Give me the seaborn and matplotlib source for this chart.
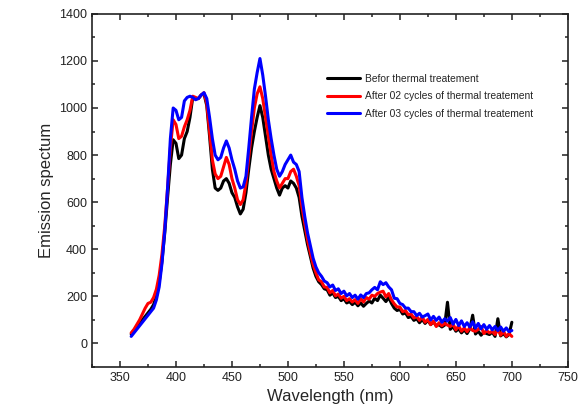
import numpy as np
import pandas as pd
import seaborn as sns
import matplotlib.pyplot as plt
from matplotlib.ticker import MultipleLocator

# Wavelength grid (nm), one value every 2.5 nm from 360 to 700
wavelength = np.arange(360, 700.1, 2.5)

# Emission, rows of 8 values = 20 nm each
before = [
    40, 55, 70, 85, 100, 115, 130, 145,
    165, 200, 260, 350, 470, 620, 760, 865,
    850, 785, 800, 870, 900, 960, 1045, 1040,
    1040, 1055, 1060, 1010, 880, 740, 660, 650,
    660, 690, 700, 680, 640, 620, 580, 550,
    570, 640, 740, 830, 900, 960, 1010, 960,
    880, 800, 740, 700, 660, 630, 660, 670,
    660, 690, 680, 660, 620, 540, 480, 420,
    370, 320, 285, 262, 250, 232, 228, 205,
    215, 195, 200, 182, 190, 172, 178, 165,
    175, 160, 172, 158, 170, 180, 172, 192,
    182, 205, 192, 178, 195, 170, 150, 140,
    145, 125, 130, 110, 115, 98, 105, 88,
    102, 85, 98, 80, 92, 75, 80, 70,
    78, 175, 60, 72, 52, 62, 45, 58,
    42, 62, 120, 40, 52, 35, 48, 42,
    38, 48, 30, 105, 32, 42, 28, 38,
    90,
]

after_02 = [
    45, 60, 80, 100, 125, 150, 170, 175,
    195, 230, 290, 380, 500, 660, 830, 950,
    930, 870, 880, 920, 950, 990, 1050, 1045,
    1040, 1055, 1065, 1020, 900, 780, 720, 700,
    710, 750, 790, 760, 700, 660, 610, 590,
    610, 680, 790, 900, 1000, 1060, 1090, 1040,
    960, 880, 800, 730, 690, 660, 680, 700,
    700, 730, 740, 710, 670, 580, 510, 440,
    385, 335, 300, 270, 262, 240, 238, 215,
    225, 202, 210, 192, 200, 182, 190, 176,
    186, 170, 190, 176, 195, 188, 205, 200,
    212, 218, 222, 198, 212, 185, 168, 155,
    155, 135, 140, 122, 125, 108, 115, 98,
    112, 90, 102, 80, 95, 72, 88, 75,
    85, 78, 72, 82, 58, 75, 52, 66,
    50, 68, 55, 52, 60, 72, 42, 55,
    45, 52, 38, 60, 35, 52, 30, 42,
    30,
]

after_03 = [
    30, 45, 60, 75, 90, 105, 120, 135,
    150, 185, 240, 340, 480, 660, 870, 1000,
    990, 950, 960, 1030, 1045, 1050, 1045, 1035,
    1040, 1055, 1065, 1040, 960, 870, 800, 780,
    790, 830, 860, 830, 780, 740, 690, 660,
    665, 710, 830, 960, 1080, 1150, 1210, 1140,
    1050, 950, 870, 800, 740, 710, 730, 760,
    780, 800, 770, 760, 730, 620, 540, 470,
    415, 362, 325, 300, 285, 265, 258, 240,
    248, 225, 232, 212, 222, 202, 212, 195,
    205, 188, 206, 195, 212, 215, 228, 238,
    228, 262, 250, 258, 240, 228, 192, 190,
    170, 165, 150, 150, 135, 135, 118, 128,
    112, 118, 125, 100, 115, 98, 112, 90,
    105, 95, 110, 82, 102, 76, 96, 72,
    88, 70, 92, 65, 85, 62, 80, 60,
    76, 58, 72, 55, 70, 52, 66, 50,
    55,
]

labels = ['Befor thermal treatement',
          'After 02 cycles of thermal treatement',
          'After 03 cycles of thermal treatement']
colors = ['#000000', '#ff0000', '#0000ff']

sns.set_style('ticks')
plt.rcParams['font.family'] = ['Liberation Sans', 'DejaVu Sans']

fig = plt.figure(figsize=(5.86, 4.18), dpi=100)
ax = fig.add_axes([0.157, 0.122, 0.812, 0.845])

for series, label, color in zip([before, after_02, after_03], labels, colors):
    sns.lineplot(x=wavelength, y=series, color=color, lw=2.2, label=label, ax=ax)

ax.set_xlim(325, 750)
ax.set_ylim(-100, 1400)
ax.xaxis.set_major_locator(MultipleLocator(50))
ax.xaxis.set_minor_locator(MultipleLocator(25))
ax.yaxis.set_major_locator(MultipleLocator(200))
ax.yaxis.set_minor_locator(MultipleLocator(100))
ax.tick_params(which='both', direction='in', top=True, right=True,
               width=1.1, colors='#222222', labelsize=9)
ax.tick_params(which='major', length=4.5)
ax.tick_params(which='minor', length=2.5)
for side in ax.spines.values():
    side.set_linewidth(1.2)
    side.set_color('#222222')

ax.set_xlabel('Wavelength (nm)', fontsize=12)
ax.set_ylabel('Emission spectum', fontsize=12)

ax.legend(loc='upper left', bbox_to_anchor=(0.494, 0.83), frameon=False,
          fontsize=7.4, handlelength=3.2, handletextpad=0.5, labelspacing=0.72,
          borderpad=0, borderaxespad=0)

fig.savefig('out.png', dpi=100)
